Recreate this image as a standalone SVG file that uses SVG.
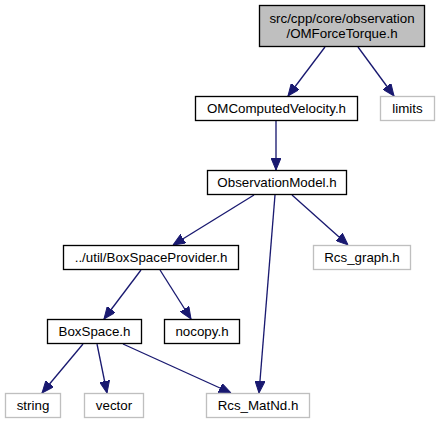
<svg xmlns="http://www.w3.org/2000/svg" width="441" height="425" viewBox="0 0 441 425">
<style>
.n rect{fill:#ffffff;stroke:#000000;stroke-width:1.33}
.x rect{fill:#ffffff;stroke:#bfbfbf;stroke-width:1.33}
#n0 rect{fill:#bfbfbf;stroke:#000000}
text{font-family:"Liberation Sans",Arial,Helvetica,sans-serif;font-size:13.33px;fill:#000000;text-anchor:middle}
.e line{stroke:#191970;stroke-width:1.33;marker-end:url(#ah)}
</style>
<defs>
<marker id="ah" viewBox="0 0 12 10" refX="12" refY="5" markerWidth="12" markerHeight="10" markerUnits="userSpaceOnUse" orient="auto">
<path d="M0,0 L12,5 L0,10 z" fill="#191970" stroke="#191970"/>
</marker>
</defs>
<g id="edges" class="e">
<line x1="325" y1="47" x2="288" y2="96"/>
<line x1="358" y1="47" x2="394" y2="96"/>
<line x1="276" y1="120" x2="276" y2="170"/>
<line x1="254" y1="195" x2="173" y2="245"/>
<line x1="292" y1="195" x2="348" y2="245"/>
<line x1="275" y1="195" x2="259" y2="393"/>
<line x1="141" y1="270" x2="104" y2="319"/>
<line x1="160" y1="270" x2="191" y2="319"/>
<line x1="83" y1="344" x2="42" y2="393"/>
<line x1="97" y1="344" x2="107" y2="393"/>
<line x1="123" y1="344" x2="231" y2="393"/>
</g>
<g id="n0" class="n"><rect x="259.5" y="5.5" width="165" height="41"/><text x="342" y="23">src/cpp/core/observation</text><text x="342" y="38">/OMForceTorque.h</text></g>
<g id="n1" class="n"><rect x="195.5" y="96.5" width="162" height="24"/><text x="276.5" y="113">OMComputedVelocity.h</text></g>
<g id="n2" class="x"><rect x="380.5" y="96.5" width="54" height="24"/><text x="407.5" y="113">limits</text></g>
<g id="n3" class="n"><rect x="207.5" y="170.5" width="139" height="24"/><text x="277" y="187">ObservationModel.h</text></g>
<g id="n4" class="n"><rect x="63.5" y="245.5" width="175" height="24"/><text x="151" y="262">../util/BoxSpaceProvider.h</text></g>
<g id="n5" class="x"><rect x="313.5" y="245.5" width="97" height="24"/><text x="362" y="262">Rcs_graph.h</text></g>
<g id="n6" class="n"><rect x="47.5" y="319.5" width="94" height="24"/><text x="94.5" y="336">BoxSpace.h</text></g>
<g id="n7" class="n"><rect x="164.5" y="319.5" width="75" height="24"/><text x="202" y="336">nocopy.h</text></g>
<g id="n8" class="x"><rect x="5.5" y="393.5" width="55" height="24"/><text x="33" y="410">string</text></g>
<g id="n9" class="x"><rect x="84.5" y="393.5" width="59" height="24"/><text x="114" y="410">vector</text></g>
<g id="n10" class="x"><rect x="206.5" y="393.5" width="103" height="24"/><text x="258" y="410">Rcs_MatNd.h</text></g>
</svg>
